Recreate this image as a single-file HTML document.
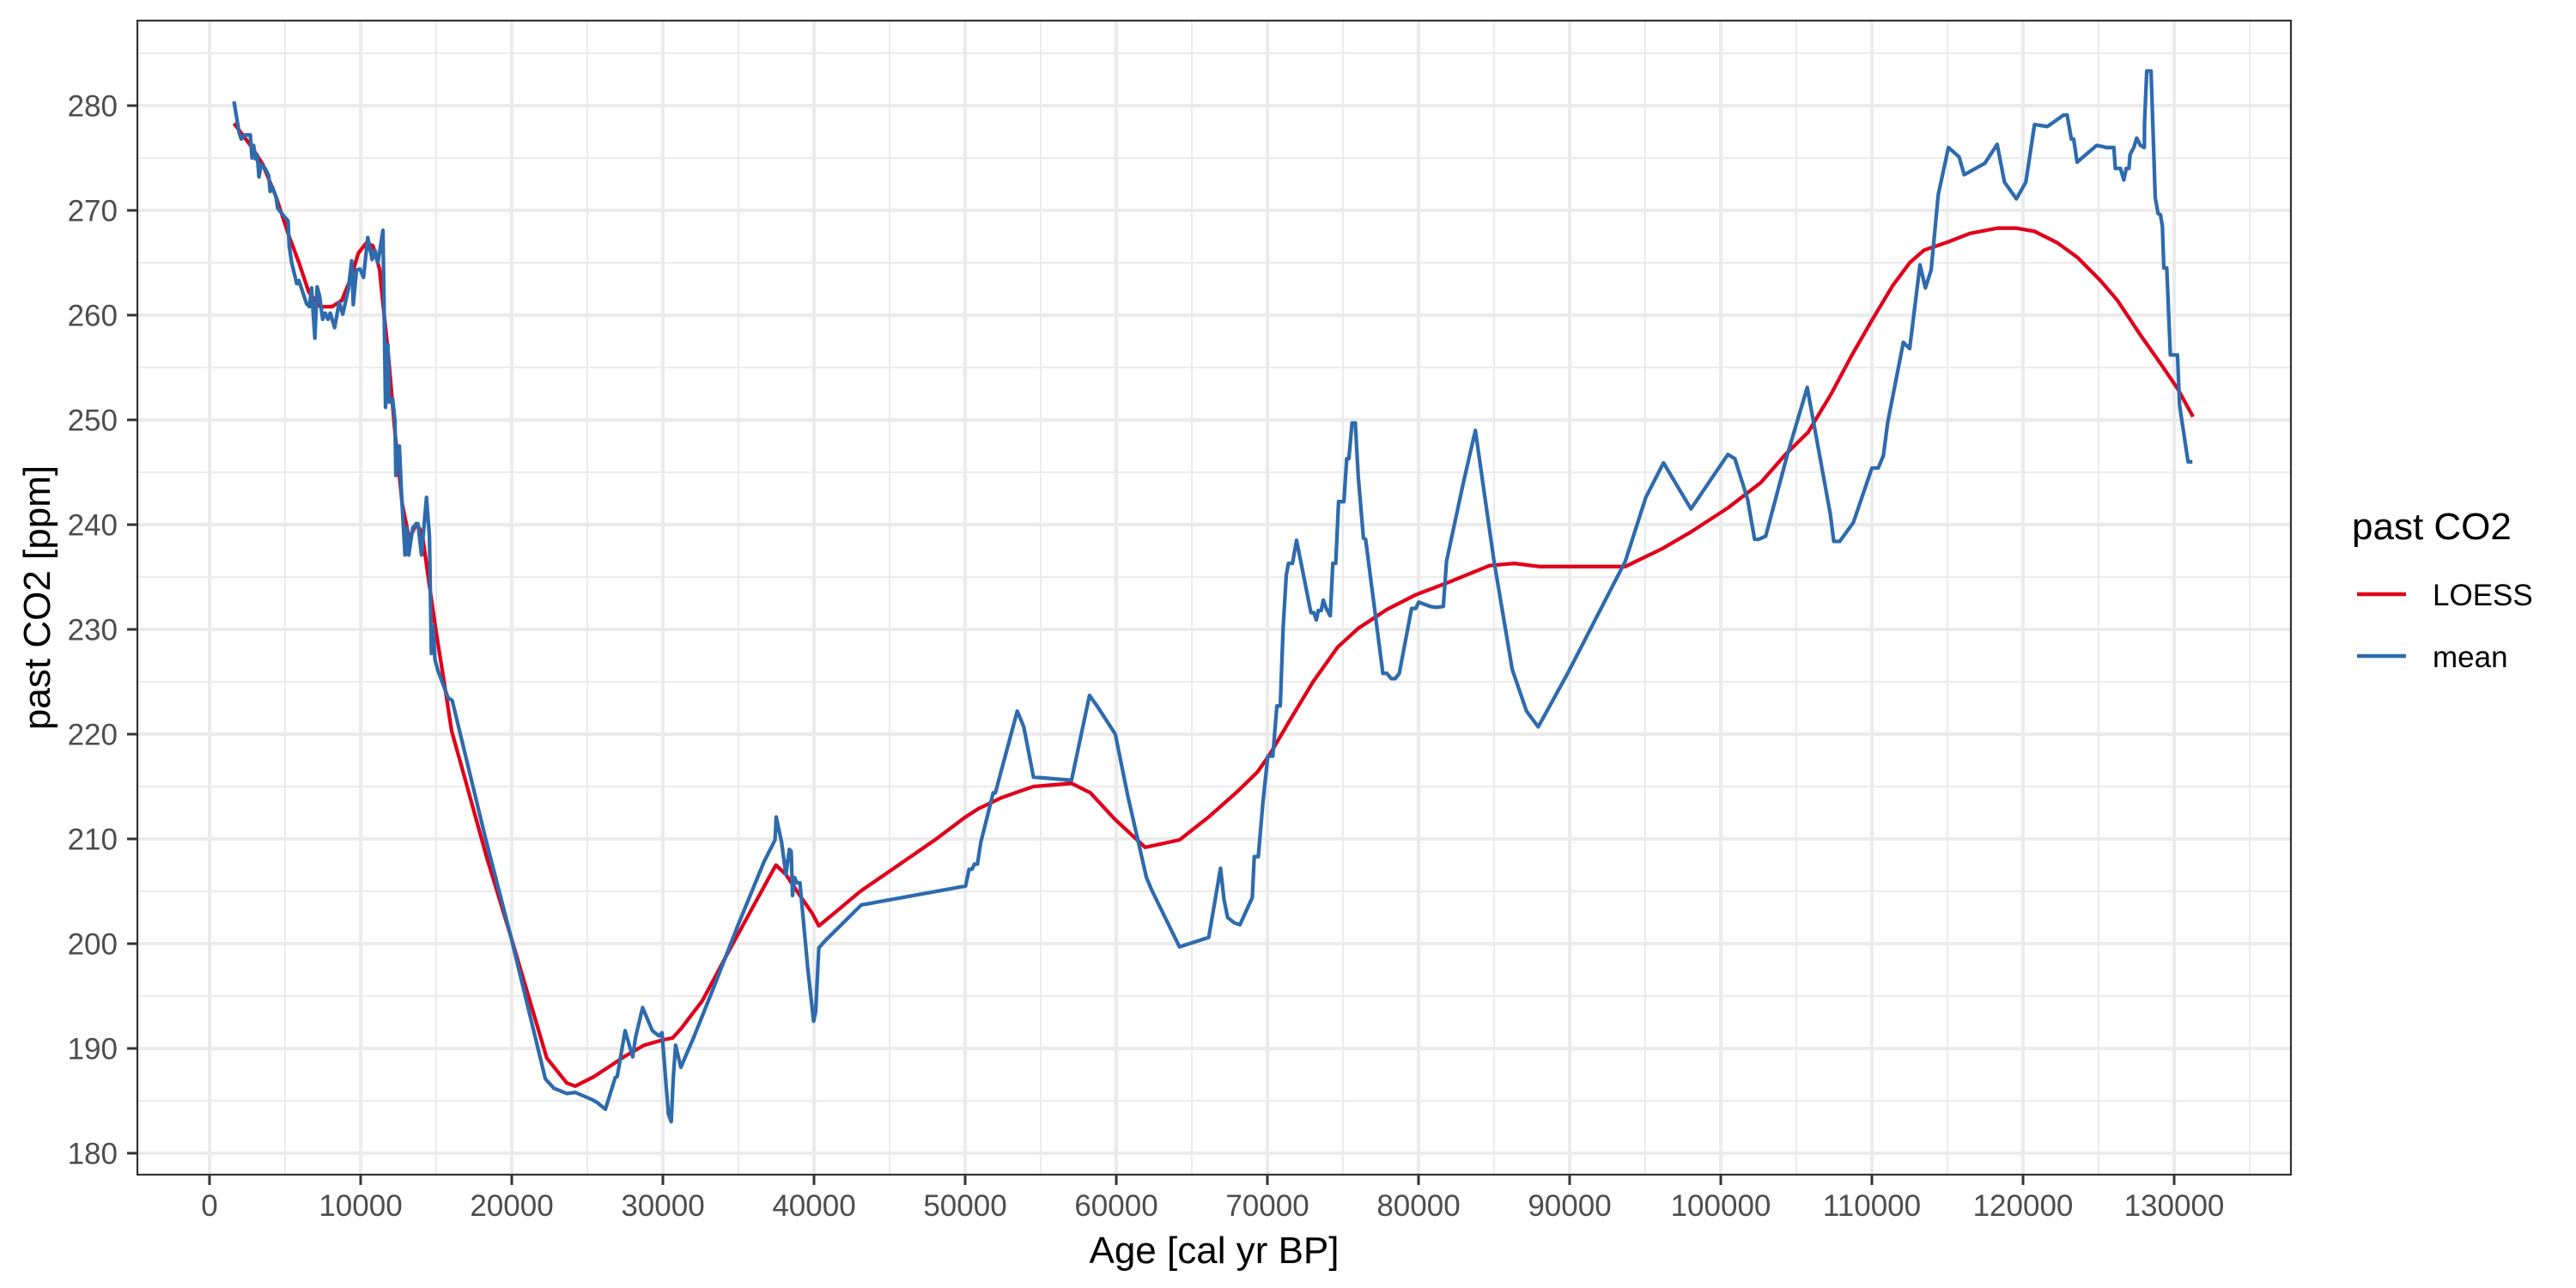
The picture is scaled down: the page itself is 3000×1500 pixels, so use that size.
<!DOCTYPE html>
<html><head><meta charset="utf-8"><title>past CO2</title>
<style>html,body{margin:0;padding:0;background:#fff}svg{display:block}text{font-family:"Liberation Sans",Arial,sans-serif}</style>
</head><body>
<svg id="chart" width="3000" height="1500" viewBox="0 0 3000 1500" xmlns="http://www.w3.org/2000/svg">
<rect x="0" y="0" width="3000" height="1500" fill="#fff"/>
<g id="grid"></g>
<g id="series"></g>
<rect x="160" y="24" width="2508" height="1344" fill="none" stroke="#333" stroke-width="2.2"/>
<g id="axes"></g>
<text x="1414" y="1471" font-size="44" text-anchor="middle" fill="#000">Age [cal yr BP]</text>
<text transform="translate(58,696) rotate(-90)" font-size="44" text-anchor="middle" fill="#000">past CO2 [ppm]</text>
<g>
<text x="2739" y="628" font-size="44" fill="#000">past CO2</text>
<g>
<line x1="2745" y1="692" x2="2802" y2="692" stroke="#E0001B" stroke-width="4.5"/>
<text x="2833" y="705" font-size="35" fill="#000">LOESS</text>
</g>
<g>
<line x1="2745" y1="764" x2="2802" y2="764" stroke="#2E6BAD" stroke-width="4.5"/>
<text x="2833" y="777" font-size="35" fill="#000">mean</text>
</g>
</g>
</svg>
<script>
const xTicks = [0,10000,20000,30000,40000,50000,60000,70000,80000,90000,100000,110000,120000,130000];
const xMinor = [5000,15000,25000,35000,45000,55000,65000,75000,85000,95000,105000,115000,125000,135000];
const yTicks = [180,190,200,210,220,230,240,250,260,270,280];
const yMinor = [185,195,205,215,225,235,245,255,265,275,285];

const meanAge = [1620,1960,2110,2330,2700,2810,2920,3050,3160,3270,3420,3680,3920,4010,4140,4400,4510,4950,5200,5270,5440,5770,5910,6420,6620,6750,6970,7120,7270,7490,7660,7840,7990,8280,8580,8820,9190,9410,9510,9730,9960,10190,10470,10760,10950,11140,11480,11650,11800,11890,12120,12270,12330,12460,12560,12690,12940,13070,13180,13450,13690,13790,14030,14360,14550,14680,14790,14920,15110,15780,16060,18240,19940,22220,22790,23640,24200,25340,25680,26200,26840,26980,27500,28000,28200,28660,29300,29740,29940,30370,30550,30690,30840,31190,32050,33360,34950,36690,37420,37500,37850,38140,38370,38490,38580,38720,38870,39070,39590,39970,40110,40320,40750,43130,50030,50260,50460,50610,50810,51040,51860,52000,53450,53880,54520,57040,58230,58730,59940,60750,62000,62350,64180,66120,66900,67130,67370,67800,68180,69000,69130,69400,69700,70030,70360,70630,70850,71040,71250,71390,71660,71930,72880,73070,73240,73370,73560,73700,73890,74160,74330,74520,74710,75060,75250,75390,75600,75820,76010,76360,76500,77640,77910,78190,78460,78730,79540,79820,80010,80770,81170,81640,81850,82940,83760,84980,86200,87150,87920,89870,93680,95040,96210,98030,99110,100470,100930,101780,102240,102510,102970,104410,105720,107250,107480,107870,108770,110000,110420,110760,111040,112080,112500,113180,113540,113920,114390,115060,115770,116110,117480,118290,118770,119560,120190,120760,121610,122690,122920,123200,123350,123580,124870,125250,125500,126010,126110,126450,126670,126830,127010,127080,127330,127520,127770,128030,128040,128190,128470,128750,128940,129090,129220,129320,129510,129750,130220,130360,130920,131210];
const meanCO2 = [280.4,277.4,276.8,277.2,277.2,275,276.2,274.9,275.3,273.2,274.4,274,273.3,271.8,272.3,271.3,270.2,269.4,269,266.6,265,263,263.3,261.1,260.8,262.6,257.8,262.7,261.9,259.6,260.2,259.6,260.2,258.8,261.2,260.1,262.5,265.2,261,264.3,264.4,263.6,267.4,265.3,266.2,265,268.1,251.2,257.2,251.7,252,249.9,244.7,247.5,247.5,243.4,237.1,239.7,237.1,239.7,240.1,240.1,237.1,242.6,238.9,227.7,230.3,227.1,226.1,223.5,223.2,210.2,200.7,187.1,186.2,185.7,185.8,185.1,184.8,184.2,187.2,187.3,191.7,189.2,191.1,193.9,191.7,191.2,191.5,183.7,183,187.2,190.3,188.2,191.1,195.8,201.7,207.8,209.9,212.1,209.7,206.6,209,208.8,204.6,206.3,205.8,205.8,197.6,192.6,193.5,199.6,200.3,203.7,205.5,207.1,207.1,207.6,207.6,209.7,214.4,214.4,222.2,220.7,215.9,215.6,223.7,222.7,220,214.2,206.3,205.1,199.7,200.6,207.2,204.2,202.5,202,201.8,204.4,208.3,208.3,213.4,217.9,217.9,222.7,222.7,230.1,235.2,236.3,236.3,238.5,231.6,231.6,230.9,231.8,231.8,232.8,232,231.3,236.3,236.3,242.2,242.2,246.3,246.3,249.7,249.7,244.6,238.7,238.6,225.8,225.8,225.3,225.3,225.8,232,232,232.6,232.2,232.1,232.2,236.5,243.8,249,236.7,226.2,222.2,220.7,225.8,236.5,242.6,245.9,241.5,243.8,246.7,246.3,242.4,238.6,238.6,238.9,246.7,253.1,241,238.4,238.4,240.2,245.4,245.4,246.6,249.7,257.4,256.8,264.8,262.6,264.3,271.5,276,275.1,273.4,274.5,276.3,272.7,271.1,272.7,278.2,278,279.1,279.1,276.8,276.8,274.6,276.2,276.1,276,276,274,274,272.9,274,274,275.3,276,276.9,276.2,276,278.3,283.3,283.3,271.2,269.7,269.6,268.5,264.5,264.5,256.2,256.2,251.4,246,246];

const loessAge = [1620,2660,3520,4400,5270,5920,6570,7330,8100,8750,9400,9840,10380,10820,11250,11420,11800,12270,12750,13220,13690,14070,14550,15020,15490,16020,16820,18330,19940,22310,23640,24200,25430,26380,27420,28750,29980,30640,31210,32630,34370,36110,37480,38140,39160,39880,40320,41330,43070,45390,48000,50030,50900,52350,53510,54520,57040,58290,59890,61910,64180,66120,68000,69350,70170,71390,73020,74650,76010,77910,79820,81990,84710,86340,87970,93680,96120,98030,100470,102640,104280,105770,107350,108680,110000,111370,112500,113450,115060,116500,118300,119560,120760,122280,123610,125120,126250,127770,129090,130220,131250];
const loessCO2 = [278.3,276.3,274.4,271.3,267.5,265,262.2,260.8,260.8,261.4,263.7,265.9,266.9,266.6,264.4,261.9,256.7,248.8,242,238.6,240.1,239.2,234.2,229.5,225.3,220.3,216.2,208.3,200.7,189.1,186.7,186.4,187.3,188.2,189.2,190.3,190.8,191,191.9,194.6,199.3,203.9,207.5,206.6,204.4,202.9,201.7,202.9,205,207.3,209.9,212.1,212.9,213.9,214.5,215,215.3,214.4,211.9,209.2,209.9,212.1,214.5,216.4,218.1,221.1,225,228.3,230.1,231.9,233.3,234.5,236.1,236.3,236,236,237.7,239.3,241.6,244,246.7,248.8,252.6,256.2,259.5,262.8,265,266.2,267,267.8,268.3,268.3,268,266.9,265.5,263.3,261.4,258.1,255.4,253,250.3];

const X0 = 244, XS = 0.0176;
function xPos(a){ return X0 + a * XS; }
function yPos(v){ return 123 + (280 - v) * 12.2; }
const NS = 'http://www.w3.org/2000/svg';
function mk(tag, attrs, parent){
  const el = document.createElementNS(NS, tag);
  for (const k in attrs) el.setAttribute(k, attrs[k]);
  parent.appendChild(el);
  return el;
}
const grid = document.getElementById('grid');
const axes = document.getElementById('axes');
const series = document.getElementById('series');

xMinor.forEach(t => {
  const x = xPos(t); if (x < 160 || x > 2668) return;
  const l = mk('line', {x1:x, y1:24, x2:x, y2:1368, stroke:'#EBEBEB', 'stroke-width':2}, grid);
  
  
});
yMinor.forEach(t => {
  const y = yPos(t); if (y < 24 || y > 1368) return;
  const l = mk('line', {x1:160, y1:y, x2:2668, y2:y, stroke:'#EBEBEB', 'stroke-width':2}, grid);
  
  
});
xTicks.forEach(t => {
  const x = xPos(t);
  const l = mk('line', {x1:x, y1:24, x2:x, y2:1368, stroke:'#EBEBEB', 'stroke-width':4}, grid);
  
  
  const tk = mk('line', {x1:x, y1:1368, x2:x, y2:1380, stroke:'#333', 'stroke-width':3}, axes);
  
  
  const tx = mk('text', {x:x, y:1416, 'font-size':35, 'text-anchor':'middle', fill:'#4D4D4D'}, axes);
  tx.textContent = String(t);
  
  
});
yTicks.forEach(t => {
  const y = yPos(t);
  const l = mk('line', {x1:160, y1:y, x2:2668, y2:y, stroke:'#EBEBEB', 'stroke-width':4}, grid);
  
  
  const tk = mk('line', {x1:148, y1:y, x2:160, y2:y, stroke:'#333', 'stroke-width':3}, axes);
  
  
  const tx = mk('text', {x:137, y:y+12.5, 'font-size':35, 'text-anchor':'end', fill:'#4D4D4D'}, axes);
  tx.textContent = String(t);
  
  
});
function path(ages, vals){
  return ages.map((a,i) => (i ? 'L' : 'M') + xPos(a).toFixed(1) + ',' + yPos(vals[i]).toFixed(1)).join('');
}
const pl = mk('path', {d:path(loessAge, loessCO2), fill:'none', stroke:'#E0001B', 'stroke-width':4.3, 'stroke-linejoin':'round'}, series);


const pm = mk('path', {d:path(meanAge, meanCO2), fill:'none', stroke:'#2E6BAD', 'stroke-width':4.3, 'stroke-linejoin':'round'}, series);


</script>
</body></html>
